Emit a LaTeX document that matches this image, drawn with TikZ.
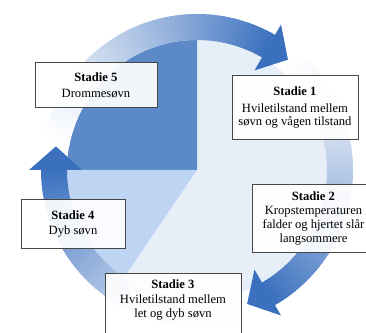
\documentclass[tikz,border=0pt]{standalone}
\usepackage{fontspec}
\setmainfont{Liberation Serif}
\definecolor{arrowblue}{RGB}{58,112,190}
\definecolor{quadblue}{RGB}{92,138,200}
\definecolor{sectblue}{RGB}{190,212,243}
\definecolor{diskblue}{RGB}{230,238,248}
\definecolor{boxline}{RGB}{70,70,70}
\begin{document}
\begin{tikzpicture}[x=1pt,y=1pt,
  box/.style={draw=boxline, line width=1pt, fill=white, fill opacity=0.92, text opacity=1,
    align=center, font=\fontsize{12.6}{13.8}\selectfont, inner sep=0pt},
  txt/.style={align=center, font=\fontsize{12.6}{13.8}\selectfont, inner sep=0pt}]
\useasboundingbox (0,0) rectangle (366,332);
\fill[white] (0,0) rectangle (366,332);
\clip (0,0) rectangle (366,332);
\begin{scope}[shift={(197,162)}]
  \fill[diskblue] (0,0) circle[radius=130pt];
  \fill[quadblue] (0,0) -- (90:130pt) arc[start angle=90,end angle=180,radius=130pt] -- cycle;
  \fill[sectblue] (0,0) -- (180:130pt) arc[start angle=180,end angle=235.8,radius=130pt] -- cycle;
  \foreach \T/\H in {170/60,50/-60,-70/-180}{
    \foreach \k [evaluate=\k as \a using {\T-\k*(\T-\H)/60},
                 evaluate=\k as \b using {\T-(\k+1)*(\T-\H)/60-0.4},
                 evaluate=\k as \p using {100*((\k+0.5)/60)^1.3}] in {0,...,59}{
      \fill[arrowblue!\p!white] (\a:130pt) arc[start angle=\a,end angle=\b,radius=130pt]
        -- (\b:156pt) arc[start angle=\b,end angle=\a,radius=156pt] -- cycle;
    }
    \fill[arrowblue] (\H:115pt) -- (\H:168pt) -- (\H-9.5:143pt) -- cycle;
  }
\end{scope}
\node[box, minimum width=122pt, minimum height=45pt] (s5) at (96,246.5)
  {\textbf{Stadie 5}\\[2pt]Drommesøvn};
\node[box, minimum width=126pt, minimum height=64pt] (s1) at (295,224.5)
  {\textbf{Stadie 1}\\[3pt]Hviletilstand mellem\\søvn og vågen tilstand};
\node[box, minimum width=122pt, minimum height=67pt] (s2) at (313.5,113.5)
  {\textbf{Stadie 2}\\Kropstemperaturen\\falder og hjertet slår\\langsommere};
\node[box, minimum width=104pt, minimum height=49pt] (s4) at (73,108)
  {\textbf{Stadie 4}\\[2pt]Dyb søvn};
\node[box, minimum width=136pt, minimum height=70pt, anchor=north] (s3) at (173,59) {};
\node[txt] (s3t) at (173,32)
  {\textbf{Stadie 3}\\[1pt]Hviletilstand mellem\\let og dyb søvn};
\end{tikzpicture}
\end{document}
